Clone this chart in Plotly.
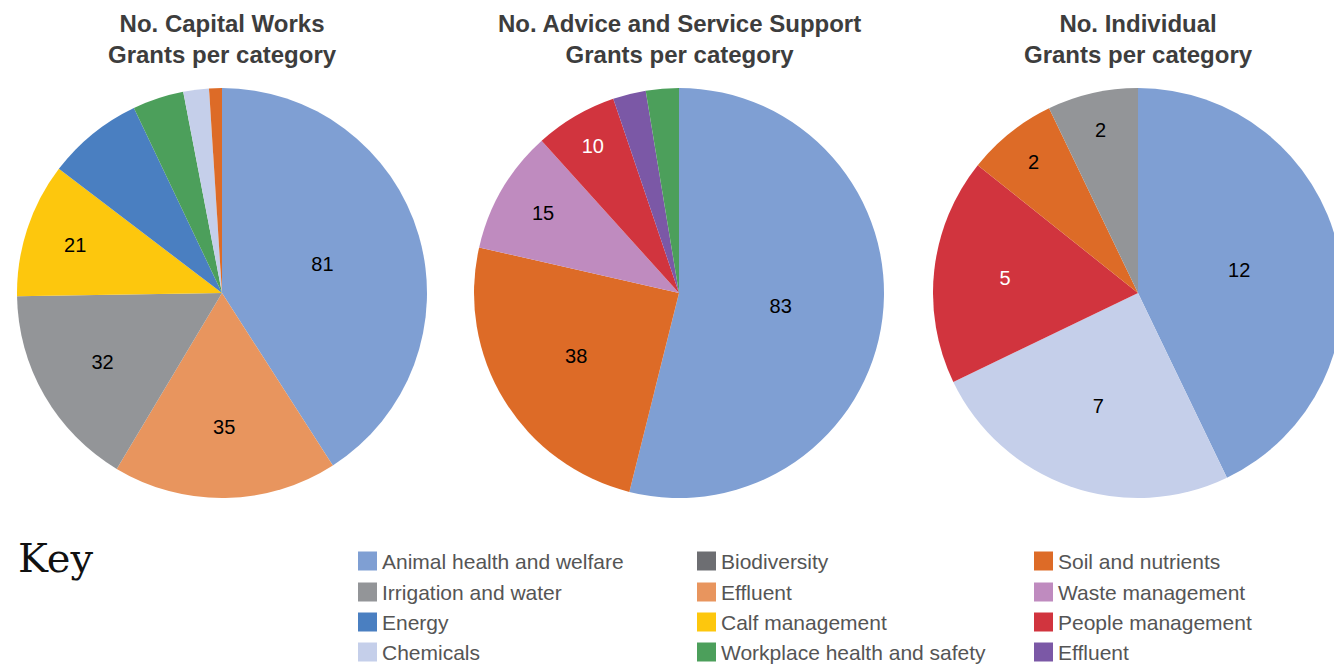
import plotly.graph_objects as go

# ---- data ----
capital_labels = ["Animal health and welfare", "Effluent", "Irrigation and water", "Calf management",
                  "Energy", "Workplace health and safety", "Chemicals", "Soil and nutrients"]
capital_values = [81, 35, 32, 21, 15, 8, 4, 2]
capital_shown = [True, True, True, True, False, False, False, False]

advice_labels = ["Animal health and welfare", "Soil and nutrients", "Waste management",
                 "People management", "Effluent (purple)", "Workplace health and safety"]
advice_values = [83, 38, 15, 10, 4, 4]
advice_shown = [True, True, True, True, False, False]

individual_labels = ["Animal health and welfare", "Chemicals", "People management",
                     "Soil and nutrients", "Irrigation and water"]
individual_values = [12, 7, 5, 2, 2]
individual_shown = [True, True, True, True, True]

titles = ["No. Capital Works<br>Grants per category",
          "No. Advice and Service Support<br>Grants per category",
          "No. Individual<br>Grants per category"]

key_columns = [
    ["Animal health and welfare", "Irrigation and water", "Energy", "Chemicals"],
    ["Biodiversity", "Effluent", "Calf management", "Workplace health and safety"],
    ["Soil and nutrients", "Waste management", "People management", "Effluent (purple)"],
]

palette = {
    "Animal health and welfare": "#7f9fd3",
    "Irrigation and water": "#939598",
    "Energy": "#4a7fc1",
    "Chemicals": "#c5cfea",
    "Biodiversity": "#6d6e72",
    "Effluent": "#e8955e",
    "Calf management": "#fdc70d",
    "Workplace health and safety": "#4c9f5b",
    "Soil and nutrients": "#dd6b27",
    "Waste management": "#bf8bbf",
    "People management": "#d1343e",
    "Effluent (purple)": "#7b58a6",
}

# ---- layout geometry (pixels) ----
W, H = 1345, 666
R = 205
pie_cx = [222, 679, 1138]
pie_cy = 293


def px(x):
    return x / W


def py(y):
    return 1 - y / H


fig = go.Figure()

pies = [(capital_labels, capital_values, capital_shown),
        (advice_labels, advice_values, advice_shown),
        (individual_labels, individual_values, individual_shown)]

for (labels, values, shown), cx in zip(pies, pie_cx):
    colors = [palette[l] for l in labels]
    text_colors = ["#ffffff" if l == "People management" else "#000000" for l in labels]
    fig.add_trace(go.Pie(
        labels=labels,
        values=values,
        sort=False,
        direction="clockwise",
        rotation=0,
        marker=dict(colors=colors, line=dict(width=0)),
        texttemplate=["%{value}" if s else "" for s in shown],
        textposition="inside",
        insidetextorientation="horizontal",
        insidetextfont=dict(family="Liberation Sans, Arial, sans-serif", size=20, color=text_colors),
        hoverinfo="label+value",
        showlegend=False,
        domain=dict(x=[px(cx - R), px(cx + R)], y=[py(pie_cy + R), py(pie_cy - R)]),
    ))

annotations = []
for t, cx in zip(titles, pie_cx):
    bold = "<b>" + t.replace("<br>", "</b><br><b>") + "</b>"
    annotations.append(dict(
        text=bold, x=px(cx), y=py(8), xref="paper", yref="paper",
        xanchor="center", yanchor="top", showarrow=False, align="center",
        font=dict(family="Liberation Sans, Arial, sans-serif", size=24, color="#3d3d3d"),
    ))

annotations.append(dict(
    text="Key", x=px(16), y=py(558), xref="paper", yref="paper",
    xanchor="left", yanchor="middle", showarrow=False,
    font=dict(family="DejaVu Serif, serif", size=40, color="#111111"),
))

shapes = []
col_x = [358, 697, 1034]
row_y = [561, 592, 622, 652]
sq = 19
for cx, items in zip(col_x, key_columns):
    for ry, name in zip(row_y, items):
        shapes.append(dict(
            type="rect", xref="paper", yref="paper",
            x0=px(cx), x1=px(cx + sq), y0=py(ry + sq / 2), y1=py(ry - sq / 2),
            fillcolor=palette[name], line=dict(width=0),
        ))
        annotations.append(dict(
            text=name.replace(" (purple)", ""), x=px(cx + sq + 3), y=py(ry),
            xref="paper", yref="paper", xanchor="left", yanchor="middle", showarrow=False,
            font=dict(family="Liberation Sans, Arial, sans-serif", size=21, color="#555555"),
        ))

fig.update_layout(
    width=W, height=H,
    margin=dict(l=0, r=0, t=0, b=0),
    paper_bgcolor="white",
    plot_bgcolor="white",
    annotations=annotations,
    shapes=shapes,
)

fig.write_html("out.html", post_script="document.body.style.overflow='hidden';document.documentElement.style.overflow='hidden';")
